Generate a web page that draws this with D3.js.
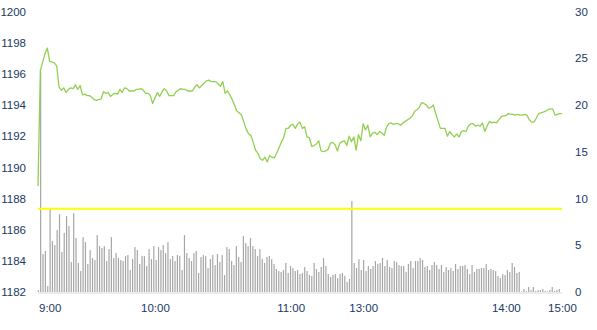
<!DOCTYPE html>
<html>
<head>
<meta charset="utf-8">
<script src="https://cdn.jsdelivr.net/npm/d3@7"></script>
<style>
  body { margin: 0; background: #fff; }
  svg { display: block; }
  .axis text { font-family: "Liberation Sans", Arial, sans-serif; font-size: 11.5px; fill: #203864; }
</style>
</head>
<body>
<svg id="chart" width="597" height="330"></svg>
<script>
// price (left axis), one value per minute
const price = [
  1188.8, 1196.2, 1196.75, 1197.3, 1197.65, 1196.8, 1196.75, 1196.7, 1196.5, 1195.15,
  1194.95, 1195.1, 1194.8, 1195.0, 1195.1, 1195.05, 1195.3, 1195.0, 1195.25, 1194.65,
  1194.7, 1194.6, 1194.6, 1194.5, 1194.35, 1194.3, 1194.35, 1194.4, 1194.85, 1194.75,
  1194.8, 1194.55, 1194.7, 1194.75, 1194.7, 1195.0, 1194.8, 1195.1, 1195.05, 1194.9,
  1194.9, 1194.9, 1195.0, 1195.0, 1195.05, 1194.95, 1194.75, 1194.75, 1194.6, 1194.1,
  1194.45, 1194.8, 1194.55, 1194.85, 1195.05, 1194.9, 1194.6, 1194.6, 1194.6, 1194.85,
  1194.95, 1195.05, 1195.0, 1195.0, 1194.9, 1194.9, 1194.9, 1195.15, 1195.3, 1195.1,
  1195.25, 1195.4, 1195.55, 1195.6, 1195.5, 1195.5, 1195.5, 1195.35, 1195.2, 1195.5,
  1194.75, 1194.9, 1194.65, 1194.35, 1194.0, 1193.6, 1193.5, 1193.35, 1192.9, 1192.45,
  1192.15, 1192.05, 1191.6, 1191.1, 1190.9, 1190.55, 1190.45, 1190.65, 1190.35, 1190.75,
  1190.65, 1190.6, 1190.9, 1191.25, 1191.6, 1191.9, 1192.5, 1192.5, 1192.7, 1192.75,
  1192.5, 1192.8, 1192.9, 1192.5, 1192.6, 1191.95, 1191.9, 1191.35, 1191.4, 1191.5,
  1191.7, 1191.05, 1191.0, 1191.05, 1191.15, 1191.55, 1191.6, 1191.45, 1191.05, 1191.55,
  1191.65, 1191.7, 1191.4, 1192.0, 1191.65, 1191.95, 1191.1, 1192.1, 1191.7, 1192.8,
  1192.4, 1192.7, 1191.95, 1192.2, 1192.25, 1192.1, 1192.3, 1192.2, 1192.05, 1192.6,
  1192.8, 1192.85, 1192.75, 1192.8, 1192.8, 1192.7, 1192.85, 1192.95, 1193.05, 1193.15,
  1193.3, 1193.6, 1193.7, 1193.85, 1194.15, 1194.1, 1194.0, 1193.8, 1193.85, 1194.0,
  1193.45, 1193.0, 1192.5, 1192.5, 1192.5, 1192.0, 1192.3, 1192.1, 1191.95, 1192.15,
  1191.95, 1192.3, 1192.35, 1192.3, 1192.65, 1192.8, 1192.8, 1192.65, 1192.7, 1192.65,
  1192.85, 1192.3, 1192.65, 1192.95, 1192.85, 1192.9, 1192.85, 1193.05, 1193.25, 1193.3,
  1193.3, 1193.45, 1193.4, 1193.4, 1193.35, 1193.4, 1193.35, 1193.35, 1193.4, 1193.35,
  1193.05, 1192.9, 1192.9, 1193.15, 1193.45, 1193.5, 1193.55, 1193.6, 1193.7, 1193.75,
  1193.75, 1193.35, 1193.4, 1193.45, 1193.45
];

// volume (right axis)
const volume = [
  0.2, 23.5, 4.06, 4.38, 0.64, 8.86, 5.44, 5.02, 6.62, 8.33,
  4.27, 6.3, 8.11, 7.05, 3.2, 8.43, 5.77, 3.1, 2.24, 5.87,
  5.34, 3.0, 4.48, 3.63, 3.42, 6.09, 4.91, 4.7, 4.91, 3.31,
  4.59, 5.87, 3.63, 4.16, 3.63, 3.42, 3.31, 3.84, 3.95, 2.35,
  3.52, 4.8, 4.48, 3.0, 3.84, 3.84, 2.78, 4.59, 3.52, 4.91,
  3.42, 4.8, 4.48, 5.02, 4.16, 5.34, 3.52, 3.84, 3.31, 3.95,
  3.84, 2.35, 6.09, 4.16, 3.63, 3.31, 4.16, 4.38, 2.03, 3.74,
  3.95, 3.84, 2.56, 3.52, 3.95, 2.88, 4.06, 3.2, 3.95, 1.81,
  4.8, 4.59, 3.31, 2.88, 4.91, 3.74, 3.2, 5.98, 5.23, 4.91,
  5.77, 4.91, 4.59, 3.84, 4.59, 3.52, 3.1, 3.74, 3.84, 3.52,
  3.0, 2.46, 2.24, 2.14, 2.35, 3.1, 2.03, 2.78, 2.56, 2.24,
  2.35, 1.92, 2.03, 2.67, 2.24, 1.81, 1.71, 3.1, 2.46, 2.14,
  2.67, 3.63, 2.78, 1.92, 1.6, 1.81, 1.92, 1.49, 1.92, 2.03,
  1.71, 1.07, 1.39, 9.72, 3.1, 2.56, 3.52, 2.35, 3.42, 2.24,
  2.78, 2.46, 2.78, 3.31, 3.0, 3.1, 3.63, 2.78, 3.42, 2.67,
  2.56, 3.31, 3.2, 2.88, 2.78, 2.78, 2.14, 3.0, 3.31, 2.56,
  3.31, 3.31, 3.63, 3.42, 2.67, 2.78, 2.35, 2.88, 3.2, 2.88,
  2.46, 2.88, 2.14, 2.67, 2.35, 2.56, 2.24, 3.0, 2.46, 2.78,
  2.78, 2.88, 2.46, 1.92, 2.88, 2.14, 2.46, 2.46, 2.56, 2.56,
  3.0, 2.35, 2.46, 2.35, 2.24, 1.71, 1.49, 1.92, 1.81, 2.35,
  2.14, 3.1, 2.67, 2.03, 2.14, 0.05, 0.32, 0.1, 0.53, 0.2,
  0.53, 0.1, 0.2, 0.2, 0.32, 0.1, 0.05, 0.2, 0.53, 0.1,
  0.2, 0.32
];

const refPrice = 1187.35;

const tickIdx = [5, 50, 108, 139, 200, 224];
const tickLabels = ["9:00", "10:00", "11:00", "13:00", "14:00", "15:00"];
const priceTicks = [1182, 1184, 1186, 1188, 1190, 1192, 1194, 1196, 1198, 1200];
const volumeTicks = [0, 5, 10, 15, 20, 25, 30];

const green = "#92d050";
const barGray = "#a6a6a6";
const baseGray = "#d9d9d9";

const svg = d3.select("#chart");
const plot = {left: 38, right: 562, top: 11.5, bottom: 292};

const xLine = d3.scalePoint()
    .domain(d3.range(price.length))
    .range([plot.left, plot.right]);

const xBar = d3.scalePoint()
    .domain(d3.range(volume.length))
    .range([plot.left + 0.3, plot.right - 2.7]);

const yPrice = d3.scaleLinear()
    .domain([1182, 1200])
    .range([plot.bottom, plot.top]);

const yVol = d3.scaleLinear()
    .domain([0, 30])
    .range([plot.bottom, plot.top]);

// bars
svg.append("g")
    .selectAll("rect")
    .data(volume)
    .enter()
    .append("rect")
    .attr("x", (d, i) => xBar(i) - 0.6)
    .attr("width", 1.2)
    .attr("y", d => yVol(d))
    .attr("height", d => yVol(0) - yVol(d))
    .style("fill", barGray);

// baseline
svg.append("line")
    .attr("x1", plot.left)
    .attr("x2", plot.right)
    .attr("y1", plot.bottom + 1)
    .attr("y2", plot.bottom + 1)
    .style("stroke", baseGray)
    .style("stroke-width", 1);

// reference price
svg.append("line")
    .attr("x1", plot.left)
    .attr("x2", plot.right)
    .attr("y1", yPrice(refPrice))
    .attr("y2", yPrice(refPrice))
    .style("stroke", "#ffff00")
    .style("stroke-width", 2);

// price line
const line = d3.line()
    .x((d, i) => xLine(i))
    .y(d => yPrice(d));

svg.append("path")
    .datum(price)
    .attr("d", line)
    .style("fill", "none")
    .style("stroke", green)
    .style("stroke-width", 1.3)
    .style("stroke-linejoin", "round");

// axes
svg.append("g")
    .attr("class", "axis")
    .attr("transform", `translate(${plot.left}, 0)`)
    .call(d3.axisLeft(yPrice).tickValues(priceTicks).tickSize(0).tickPadding(12).tickFormat(d3.format("d")))
    .call(g => g.select(".domain").remove());

svg.append("g")
    .attr("class", "axis")
    .attr("transform", `translate(${plot.right}, 0)`)
    .call(d3.axisRight(yVol).tickValues(volumeTicks).tickSize(0).tickPadding(13))
    .call(g => g.select(".domain").remove());

svg.append("g")
    .attr("class", "axis")
    .attr("transform", `translate(0, ${plot.bottom + 1})`)
    .call(d3.axisBottom(xLine).tickValues(tickIdx).tickSize(0).tickPadding(11)
        .tickFormat(d => tickLabels[tickIdx.indexOf(d)]))
    .call(g => g.select(".domain").remove());

svg.selectAll(".axis").attr("font-family", null).attr("font-size", null);
</script>
</body>
</html>
